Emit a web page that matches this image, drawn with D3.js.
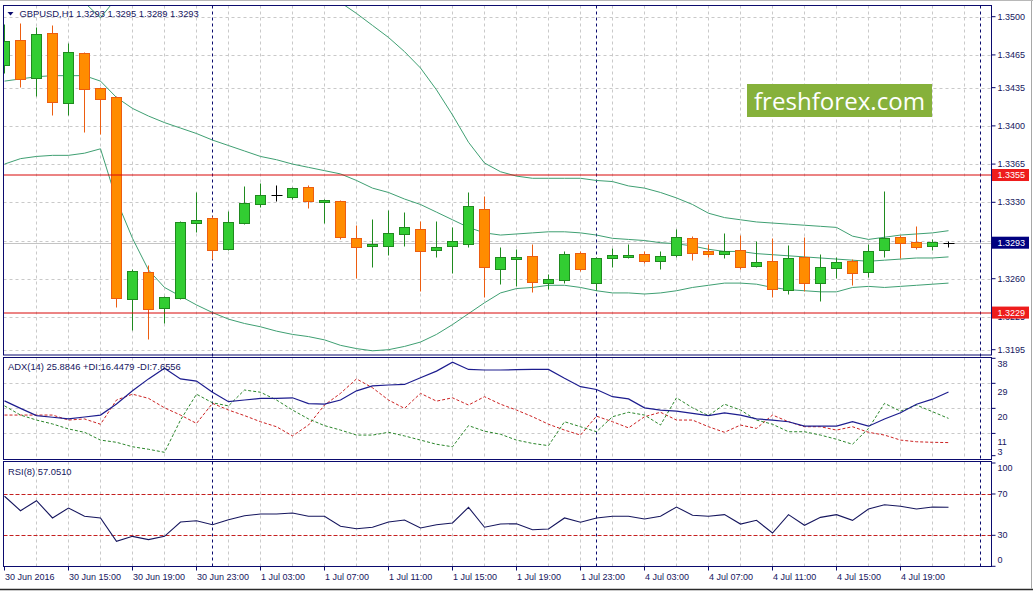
<!DOCTYPE html>
<html><head><meta charset="utf-8">
<script src="https://cdn.jsdelivr.net/npm/d3@7"></script>
<style>
html,body{margin:0;padding:0;background:#fff;overflow:hidden}
svg{display:block;font-family:"Liberation Sans",Arial,sans-serif}
</style></head><body>
<svg id="c" width="1033" height="591"></svg>
<script>
// ---------------- DATA ----------------
const symbolLabel = "GBPUSD,H1";
const headerOHLC = ["1.3293","1.3295","1.3289","1.3293"];
const adxLabel = "ADX(14) 25.8846 +DI:16.4479 -DI:7.6556";
const rsiLabel = "RSI(8) 57.0510";
const logoText = "freshforex.com";

const open  = [1.3456,1.3479,1.3444,1.3485,1.3421,1.3467,1.3435,1.3426,1.3241,1.3266,
               1.3233,1.3242,1.3311,1.3316,1.3287,1.3311,1.3328,1.3337,1.3335,1.3344,
               1.3330,1.3331,1.3297,1.3290,1.3290,1.3301,1.3306,1.3286,1.3290,1.3292,
               1.3324,1.3269,1.3278,1.3281,1.3256,1.3259,1.3284,1.3256,1.3279,1.3280,
               1.3283,1.3276,1.3282,1.3297,1.3285,1.3283,1.3286,1.3272,1.3276,1.3250,
               1.3280,1.3256,1.3270,1.3276,1.3266,1.3286,1.3298,1.3294,1.3290,1.3293];
const high  = [1.3493,1.3494,1.3491,1.3492,1.3476,1.3468,1.3436,1.3427,1.3269,1.3273,
               1.3244,1.3313,1.3339,1.3317,1.3322,1.3345,1.3348,1.3346,1.3344,1.3346,
               1.3333,1.3332,1.3309,1.3315,1.3323,1.3321,1.3313,1.3313,1.3307,1.3339,
               1.3336,1.3289,1.3287,1.3292,1.3264,1.3285,1.3285,1.3280,1.3288,1.3292,
               1.3285,1.3285,1.3306,1.3299,1.3292,1.3302,1.3300,1.3295,1.3297,1.3291,
               1.3298,1.3283,1.3280,1.3278,1.3292,1.3340,1.3300,1.3308,1.3296,1.3295];
const low   = [1.3448,1.3436,1.3427,1.3410,1.3410,1.3394,1.3393,1.3234,1.3213,1.3205,
               1.3219,1.3241,1.3303,1.3278,1.3286,1.3310,1.3326,1.3331,1.3333,1.3325,
               1.3311,1.3296,1.3261,1.3271,1.3282,1.3290,1.3249,1.3280,1.3265,1.3289,
               1.3243,1.3255,1.3253,1.3248,1.3251,1.3256,1.3267,1.3250,1.3271,1.3279,
               1.3274,1.3269,1.3280,1.3277,1.3280,1.3279,1.3269,1.3271,1.3243,1.3246,
               1.3249,1.3240,1.3261,1.3254,1.3262,1.3280,1.3279,1.3287,1.3286,1.3289];
const close = [1.3478,1.3443,1.3484,1.3422,1.3468,1.3434,1.3425,1.3242,1.3267,1.3232,
               1.3243,1.3312,1.3314,1.3286,1.3312,1.3329,1.3337,1.3337,1.3343,1.3331,
               1.3332,1.3298,1.3289,1.3292,1.3302,1.3307,1.3285,1.3289,1.3295,1.3327,
               1.3271,1.3280,1.3280,1.3257,1.3260,1.3283,1.3269,1.3279,1.3282,1.3282,
               1.3276,1.3281,1.3298,1.3284,1.3283,1.3285,1.3271,1.3275,1.3251,1.3279,
               1.3256,1.3271,1.3275,1.3265,1.3285,1.3297,1.3293,1.3289,1.3294,1.3293];

const bbUpper = [1.3517,1.3516,1.3514,1.3515,1.3517,1.3513,1.3499,1.3517,1.3535,1.3550,
                 1.3554,1.3553,1.3550,1.3546,1.3539,1.3534,1.3528,1.3525,1.3521,1.3518,
                 1.3514,1.3513,1.3503,1.3492,1.3481,1.3468,1.3453,1.3433,1.3410,1.3385,
                 1.3366,1.3358,1.3354,1.3352,1.3352,1.3352,1.3352,1.3350,1.3349,1.3345,
                 1.3343,1.3339,1.3334,1.3328,1.3320,1.3316,1.3314,1.3312,1.3311,1.3310,
                 1.3309,1.3308,1.3307,1.3299,1.3296,1.3298,1.3300,1.3301,1.3302,1.3304];
const bbMiddle = [1.3441,1.3443,1.3445,1.3446,1.3446,1.3446,1.3441,1.3426,1.3416,1.3409,
                  1.3403,1.3398,1.3393,1.3387,1.3382,1.3377,1.3372,1.3369,1.3365,1.3362,
                  1.3359,1.3356,1.3350,1.3343,1.3339,1.3333,1.3328,1.3321,1.3314,1.3307,
                  1.3302,1.3300,1.3301,1.3302,1.3303,1.3303,1.3302,1.3300,1.3297,1.3296,
                  1.3295,1.3293,1.3292,1.3290,1.3287,1.3285,1.3285,1.3283,1.3282,1.3281,
                  1.3280,1.3279,1.3278,1.3277,1.3276,1.3277,1.3278,1.3279,1.3279,1.3280];
const bbLower = [1.3365,1.3370,1.3372,1.3373,1.3373,1.3375,1.3379,1.3332,1.3297,1.3268,
                 1.3252,1.3244,1.3236,1.3229,1.3223,1.3219,1.3216,1.3212,1.3209,1.3207,
                 1.3204,1.3199,1.3196,1.3194,1.3195,1.3198,1.3202,1.3209,1.3218,1.3228,
                 1.3238,1.3247,1.3251,1.3252,1.3254,1.3254,1.3252,1.3249,1.3247,1.3247,
                 1.3246,1.3247,1.3249,1.3252,1.3254,1.3256,1.3256,1.3255,1.3252,1.3250,
                 1.3249,1.3248,1.3248,1.3252,1.3253,1.3252,1.3253,1.3254,1.3255,1.3256];

const adx = [22.7,20.0,17.4,16.8,16.2,16.9,17.6,21.6,26.3,30.6,
             34.4,30.6,29.8,25.8,22.4,23.0,23.6,23.6,23.8,21.7,
             21.5,23.0,26.3,28.1,28.4,28.6,31.0,33.4,36.6,34.0,
             33.8,33.8,33.9,34.0,34.0,30.8,27.8,26.8,24.2,23.4,
             20.2,19.4,19.0,18.2,17.4,18.4,17.6,16.2,15.8,15.2,
             13.6,13.6,13.6,15.2,13.6,16.2,18.4,21.5,23.3,25.9];
const plusDI = [20.9,17.6,15.8,14.4,12.6,11.4,8.6,7.8,6.2,5.3,
                4.2,15.8,25.1,22.0,20.9,26.6,25.8,23.0,19.4,16.2,
                13.8,12.2,10.4,10.4,11.4,10.1,8.6,7.1,6.2,13.8,
                11.8,10.7,8.6,7.4,6.6,15.2,13.4,11.6,17.0,18.6,
                17.6,14.0,23.8,20.2,17.4,21.5,19.4,15.8,14.3,11.6,
                11.6,10.4,8.9,7.1,12.8,21.8,19.0,21.2,18.8,16.4];
const minusDI = [17.6,17.6,17.6,17.6,15.8,16.2,14.3,23.0,25.1,23.6,
                 20.2,17.6,14.6,21.8,19.4,17.4,15.2,13.4,10.1,14.0,
                 21.2,25.4,30.6,27.4,23.0,20.0,25.4,22.6,23.8,21.2,
                 24.2,21.5,19.4,17.0,14.3,12.2,10.4,17.2,15.2,13.0,
                 17.0,18.6,15.8,15.8,13.4,11.4,14.0,12.8,17.6,15.2,
                 13.4,13.4,12.2,13.4,11.4,10.4,8.6,8.0,7.8,7.7];
const rsi = [67.8,53.8,63.5,46.8,56.4,48.4,46.8,24.2,29.0,25.8,
             29.0,42.9,44.1,40.3,45.1,49.0,50.6,50.6,51.6,48.4,
             48.4,38.7,36.4,37.8,42.9,44.8,37.1,40.3,41.9,57.1,
             37.8,41.0,41.2,35.4,36.1,46.8,42.6,46.8,48.4,48.4,
             45.8,48.4,57.4,49.4,48.4,50.0,40.9,44.5,32.2,50.0,
             39.7,47.4,50.0,44.5,55.5,59.6,58.1,55.5,57.4,57.1];

const xTickBars = [0,4,8,12,16,20,24,28,32,36,40,44,48,52,56];
const xTickLabels = ["30 Jun 2016","30 Jun 15:00","30 Jun 19:00","30 Jun 23:00","1 Jul 03:00",
  "1 Jul 07:00","1 Jul 11:00","1 Jul 15:00","1 Jul 19:00","1 Jul 23:00","4 Jul 03:00",
  "4 Jul 07:00","4 Jul 11:00","4 Jul 15:00","4 Jul 19:00"];
const separatorBars = [13,37,61];
const priceTicks = [1.3500,1.3465,1.3435,1.3400,1.3365,1.3330,1.3295,1.3260,1.3225,1.3195];
const hiddenPriceLabels = [1.3295];   // fully covered by the bid box in the reference
const levelLines = [1.3355,1.3229];
const bidPrice = 1.3293;
const adxTicks = [38,29,20,11,3];
const rsiTicks = [100,70,30,0];
const rsiLevels = [70,30];

// ---------------- LAYOUT ----------------
const L = 3.5, R = 991.5;
const mainT = 5.5, mainB = 355, adxT = 357.5, adxB = 459.5, rsiT = 461.5, rsiB = 566.5;
const navy = "#0b0b6e", txt = "#16165e", gridC = "#c9c9c9";

const svg = d3.select("#c");
svg.append("rect").attr("width",1033).attr("height",591).attr("fill","#fff");

const x = d3.scaleLinear().domain([0,61]).range([4.5,980.5]);
const yP = d3.scaleLinear().domain([1.3195,1.3500]).range([349.7,16.7]);
const yA = d3.scaleLinear().domain([1.8,38]).range([459,358.3]);
const yR = d3.scaleLinear().domain([0,100]).range([566.3,463]);
const snap = v => Math.round(v) + 0.5;

const defs = svg.append("defs");
function clip(id, t, b){
  defs.append("clipPath").attr("id",id).append("rect")
    .attr("x",L+0.5).attr("y",t+0.5).attr("width",R-L-1).attr("height",b-t-1);
}
clip("cm",mainT,mainB); clip("ca",adxT,adxB); clip("cr",rsiT,rsiB);

// vertical grid
const gridBars = d3.range(2,61,2);
[[mainT,mainB],[adxT,adxB],[rsiT,rsiB]].forEach(([t,b])=>{
  svg.append("g").selectAll("line").data(gridBars).join("line")
    .attr("x1",d=>x(d)).attr("x2",d=>x(d)).attr("y1",t).attr("y2",b)
    .attr("stroke",gridC).attr("stroke-dasharray","3,3");
});
// horizontal grid main
svg.append("g").selectAll("line").data(priceTicks).join("line")
  .attr("x1",L).attr("x2",R).attr("y1",d=>snap(yP(d))).attr("y2",d=>snap(yP(d)))
  .attr("stroke",gridC).attr("stroke-dasharray","3,3");
// horizontal grid ADX
svg.append("g").selectAll("line").data(adxTicks.slice(1,4)).join("line")
  .attr("x1",L).attr("x2",R).attr("y1",d=>snap(yA(d))).attr("y2",d=>snap(yA(d)))
  .attr("stroke",gridC).attr("stroke-dasharray","3,3");

// period separators
svg.append("g").selectAll("line").data(separatorBars).join("line")
  .attr("x1",d=>x(d)).attr("x2",d=>x(d)).attr("y1",mainT).attr("y2",rsiB)
  .attr("stroke",navy).attr("stroke-dasharray","3,3");

// bid line
const gm = svg.append("g").attr("clip-path","url(#cm)");
gm.append("line").attr("x1",L).attr("x2",R)
  .attr("y1",snap(yP(bidPrice))).attr("y2",snap(yP(bidPrice))).attr("stroke","#c4c4c4");

// Bollinger bands
const bandLine = d3.line().x((d,i)=>x(i)).y(d=>yP(d));
[bbUpper,bbMiddle,bbLower].forEach(arr=>{
  gm.append("path").attr("d",bandLine(arr)).attr("fill","none")
    .attr("stroke","#3f9f72").attr("stroke-width",1);
});

// candles
const bars = open.map((o,i)=>({i,o,h:high[i],l:low[i],c:close[i]}));
const col = d => d.c > d.o ? {f:"#32cd32",s:"#1f8a1f"} : d.c < d.o ? {f:"#ff8c00",s:"#ec5d10"} : {f:"#000",s:"#000"};
const cg = gm.append("g");
cg.selectAll("line.w").data(bars).join("line").attr("class","w")
  .attr("x1",d=>x(d.i)).attr("x2",d=>x(d.i))
  .attr("y1",d=>snap(yP(d.h))).attr("y2",d=>snap(yP(d.l)))
  .attr("stroke",d=>col(d).s);
cg.selectAll("rect").data(bars.filter(d=>d.c!==d.o)).join("rect")
  .attr("x",d=>x(d.i)-5).attr("width",10)
  .attr("y",d=>snap(yP(Math.max(d.o,d.c))))
  .attr("height",d=>Math.max(1,snap(yP(Math.min(d.o,d.c)))-snap(yP(Math.max(d.o,d.c)))))
  .attr("fill",d=>col(d).f).attr("stroke",d=>col(d).s);
cg.selectAll("line.dj").data(bars.filter(d=>d.c===d.o)).join("line").attr("class","dj")
  .attr("x1",d=>x(d.i)-5).attr("x2",d=>x(d.i)+6)
  .attr("y1",d=>snap(yP(d.o))).attr("y2",d=>snap(yP(d.o))).attr("stroke","#000");

// horizontal level lines (red)
svg.append("g").selectAll("line").data(levelLines).join("line")
  .attr("x1",L+0.5).attr("x2",R-0.5)
  .attr("y1",d=>Math.round(yP(d))).attr("y2",d=>Math.round(yP(d)))
  .attr("stroke","#d80808").attr("stroke-width",1);

// ADX panel
const ga = svg.append("g").attr("clip-path","url(#ca)");
const lineA = d3.line().x((d,i)=>x(i)).y(d=>yA(d));
ga.append("path").attr("d",lineA(minusDI)).attr("fill","none").attr("stroke","#cc2222").attr("stroke-dasharray","3,2");
ga.append("path").attr("d",lineA(plusDI)).attr("fill","none").attr("stroke","#2b862b").attr("stroke-dasharray","3,2");
ga.append("path").attr("d",lineA(adx)).attr("fill","none").attr("stroke","#1c1c8e").attr("stroke-width",1.2);

// RSI panel
const gr = svg.append("g").attr("clip-path","url(#cr)");
gr.selectAll("line").data(rsiLevels).join("line")
  .attr("x1",L).attr("x2",R).attr("y1",d=>snap(yR(d))).attr("y2",d=>snap(yR(d)))
  .attr("stroke","#c42020").attr("stroke-dasharray","4,2");
gr.append("path").attr("d",d3.line().x((d,i)=>x(i)).y(d=>yR(d))(rsi))
  .attr("fill","none").attr("stroke","#16165e").attr("stroke-width",1.1);

// logo
svg.append("rect").attr("x",747).attr("y",84).attr("width",185).attr("height",33).attr("fill","#86b13b");
svg.append("text").attr("x",754).attr("y",109.5).attr("fill","#fff")
  .attr("font-family","'Open Sans','DejaVu Sans',sans-serif").attr("font-size",23)
  .attr("textLength",171).attr("lengthAdjust","spacingAndGlyphs").text(logoText);

// headers
svg.append("path").attr("d","M7.5,12 L13.5,12 L10.5,15.5 Z").attr("fill",navy);
svg.append("text").attr("x",19.5).attr("y",17).attr("font-size",9.4).attr("fill",txt)
  .text(symbolLabel + "  " + headerOHLC.join(" "));
svg.append("text").attr("x",8).attr("y",370).attr("font-size",9.4).attr("fill",txt).text(adxLabel);
svg.append("text").attr("x",8).attr("y",474.5).attr("font-size",9.4).attr("fill",txt).text(rsiLabel);

// frames
[[mainT,mainB],[adxT,adxB],[rsiT,rsiB]].forEach(([t,b])=>{
  svg.append("rect").attr("x",L).attr("y",t).attr("width",R-L).attr("height",b-t)
    .attr("fill","none").attr("stroke",navy).attr("stroke-width",1);
});

function styleAxis(g){
  g.select(".domain").remove();
  g.selectAll(".tick line").attr("stroke",navy);
  g.selectAll(".tick text").attr("fill",txt).attr("font-size",9)
    .attr("font-family","'Liberation Sans',Arial,sans-serif");
}
// main price axis
const fmtP = d3.format(".4f");
const axM = svg.append("g").attr("transform",`translate(${R},0)`)
  .call(d3.axisRight(yP).tickValues(priceTicks)
    .tickFormat(d => hiddenPriceLabels.includes(d) ? "" : fmtP(d))
    .tickSize(4).tickPadding(2).offset(0));
styleAxis(axM);
// ADX axis
const axA = svg.append("g").attr("transform",`translate(${R},0)`)
  .call(d3.axisRight(yA).tickValues(adxTicks).tickFormat(d3.format("d")).tickSize(4).tickPadding(2).offset(0));
styleAxis(axA);
axA.selectAll(".tick text").attr("dy",d=> d===adxTicks[adxTicks.length-1] ? "-0.05em" : (d===adxTicks[0] ? "1.0em" : "1.27em"));
// RSI axis
const axR = svg.append("g").attr("transform",`translate(${R},0)`)
  .call(d3.axisRight(yR).tickValues(rsiTicks).tickFormat(d3.format("d")).tickSize(4).tickPadding(2).offset(0));
styleAxis(axR);
axR.selectAll(".tick text").attr("dy",d=> d===100 ? "0.87em" : (d===0 ? "-0.38em" : "0.32em"));
// time axis
const axX = svg.append("g").attr("transform",`translate(0,${rsiB})`)
  .call(d3.axisBottom(x).tickValues(xTickBars).tickFormat((d,i)=>xTickLabels[i]).tickSize(4).tickPadding(3).offset(0));
styleAxis(axX);
axX.selectAll(".tick text").attr("text-anchor","start").attr("x",0.5);

// price label boxes
function priceBox(v, fill){
  const yy = yP(v);
  svg.append("rect").attr("x",R+0.5).attr("y",yy-6).attr("width",37).attr("height",12).attr("fill",fill);
  svg.append("text").attr("x",R+6).attr("y",yy).attr("dy","0.34em").attr("font-size",9)
    .attr("fill","#fff").text(fmtP(v));
}
levelLines.forEach(v=>priceBox(v,"#ee1c1c"));
priceBox(bidPrice,"#000080");

// window edges
svg.append("line").attr("x1",0).attr("x2",1033).attr("y1",589.5).attr("y2",589.5).attr("stroke","#2a2a2a").attr("stroke-width",1.5);
svg.append("line").attr("x1",1031.5).attr("x2",1031.5).attr("y1",0).attr("y2",589).attr("stroke","#a8a8a8");
svg.append("line").attr("x1",0).attr("x2",1033).attr("y1",0.5).attr("y2",0.5).attr("stroke","#b8b8b8");
</script>
</body></html>
